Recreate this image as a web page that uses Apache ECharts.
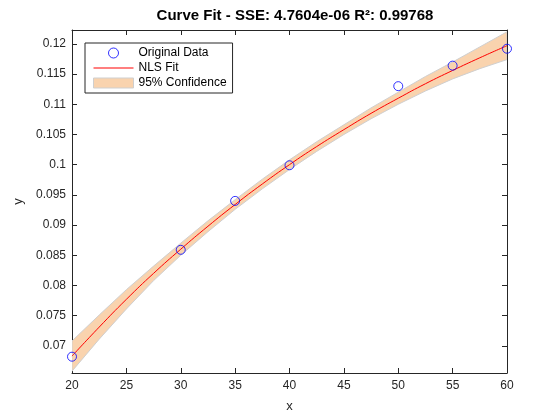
<!DOCTYPE html>
<html>
<head>
<meta charset="utf-8">
<script src="https://cdn.jsdelivr.net/npm/echarts@6/dist/echarts.min.js"></script>
<style>
  html, body { margin: 0; padding: 0; background: #fff; }
  #main { width: 560px; height: 420px; }
</style>
</head>
<body>
<div id="main"></div>
<script>
// measured points
var xData = [20, 30, 35, 40, 50, 55, 60];
var yData = [0.0682, 0.0859, 0.0940, 0.0999, 0.1130, 0.1164, 0.1192];

// fitted curve and confidence band
var fitX = [20, 22.5, 25, 27.5, 30, 32.5, 35, 37.5, 40, 42.5, 45, 47.5, 50, 52.5, 55, 57.5, 60];
var fitY = [0.0683, 0.0731, 0.0777, 0.0820, 0.0860, 0.0898, 0.0934, 0.0968, 0.1000, 0.1030, 0.1058, 0.1085, 0.1110, 0.1134, 0.1156, 0.1177, 0.1197];
var ciLower = [0.0658, 0.0711, 0.0761, 0.0808, 0.0850, 0.0889, 0.0926, 0.0960, 0.0992, 0.1022, 0.1050, 0.1076, 0.1100, 0.1122, 0.1142, 0.1159, 0.1174];
var ciUpper = [0.0708, 0.0751, 0.0793, 0.0832, 0.0870, 0.0907, 0.0942, 0.0976, 0.1008, 0.1038, 0.1066, 0.1094, 0.1120, 0.1146, 0.1170, 0.1195, 0.1220];

var yTicks = [0.07, 0.075, 0.08, 0.085, 0.09, 0.095, 0.1, 0.105, 0.11, 0.115, 0.12];

var axisColor = '#262626';
var font = 'Liberation Sans, Arial, sans-serif';
var bandColor = '#f9d3ae';
var bandEdge = '#cfcfcf';

var myChart = echarts.init(document.getElementById('main'), null, { renderer: 'canvas' });

var pts = xData.map(function (x, i) { return [x, yData[i]]; });
var fit = fitX.map(function (x, i) { return [x, fitY[i]]; });

// band polygon: upper edge left->right, then lower edge right->left
function renderBand(params, api) {
    var upper = fitX.map(function (x, i) { return api.coord([x, ciUpper[i]]); });
    var lower = fitX.map(function (x, i) { return api.coord([x, ciLower[i]]); }).reverse();
    var cs = params.coordSys;
    return {
        type: 'group',
        clipPath: { type: 'rect', shape: { x: cs.x, y: cs.y, width: cs.width, height: cs.height } },
        children: [{
            type: 'polygon',
            shape: { points: upper.concat(lower) },
            style: { fill: bandColor, stroke: bandEdge, lineWidth: 1 }
        }]
    };
}

var xCommon = {
    type: 'value', min: 20, max: 60, interval: 5,
    axisLine: { show: true, onZero: false, lineStyle: { color: axisColor, width: 1 } },
    axisTick: { show: true, inside: true, length: 5, lineStyle: { color: axisColor } },
    splitLine: { show: false }
};
var yCommon = {
    type: 'value', min: 0.0655, max: 0.1223,
    axisLine: { show: true, onZero: false, lineStyle: { color: axisColor, width: 1 } },
    axisTick: { show: true, inside: true, length: 5, customValues: yTicks, lineStyle: { color: axisColor } },
    splitLine: { show: false }
};

var option = {
    animation: false,
    backgroundColor: '#fff',
    textStyle: { fontFamily: font },
    title: {
        text: 'Curve Fit - SSE: 4.7604e-06 R²: 0.99768',
        left: 290, top: 3, textAlign: 'center',
        textStyle: { fontSize: 15, fontWeight: 'bold', color: '#000', fontFamily: font }
    },
    grid: { left: 72, right: 53, top: 30, bottom: 47 },
    legend: {
        orient: 'vertical',
        left: 85, top: 43,
        backgroundColor: '#fff',
        borderColor: axisColor, borderWidth: 1,
        padding: [4, 6, 4, 8],
        itemWidth: 40, itemHeight: 10, itemGap: 3,
        textStyle: { fontSize: 12, color: '#000', fontFamily: font },
        data: [
            { name: 'Original Data', icon: 'circle', itemStyle: { color: 'rgba(0,0,0,0)', borderColor: '#0000ff', borderWidth: 1 } },
            { name: 'NLS Fit', icon: 'path://M0,0H40V1H0Z', itemStyle: { color: '#ff0000' } },
            { name: '95% Confidence', icon: 'rect', itemStyle: { color: bandColor, borderColor: bandEdge, borderWidth: 1 } }
        ]
    },
    xAxis: [
        Object.assign({}, xCommon, {
            position: 'bottom',
            name: 'x', nameLocation: 'middle', nameGap: 27,
            nameTextStyle: { fontSize: 13, color: axisColor, fontFamily: font },
            axisLabel: { fontSize: 12, color: axisColor, margin: 7, fontFamily: font }
        }),
        Object.assign({}, xCommon, { position: 'top', axisLabel: { show: false } })
    ],
    yAxis: [
        Object.assign({}, yCommon, {
            position: 'left',
            name: 'y', nameLocation: 'middle', nameGap: 46,
            nameTextStyle: { fontSize: 13, color: axisColor, fontFamily: font },
            axisLabel: {
                fontSize: 12, color: axisColor, margin: 6, fontFamily: font,
                customValues: yTicks,
                formatter: function (v) { return String(+v.toFixed(3)); }
            }
        }),
        Object.assign({}, yCommon, { position: 'right', axisLabel: { show: false } })
    ],
    series: [
        {
            name: '95% Confidence', type: 'custom',
            data: [[fitX[0], ciLower[0]]],
            renderItem: renderBand,
            itemStyle: { color: bandColor },
            silent: true, z: 1
        },
        {
            name: 'NLS Fit', type: 'line', data: fit,
            showSymbol: false, symbol: 'none', smooth: true,
            lineStyle: { color: '#ff0000', width: 1 },
            itemStyle: { color: '#ff0000' },
            z: 2
        },
        {
            name: 'Original Data', type: 'scatter', data: pts,
            symbol: 'circle', symbolSize: 9,
            itemStyle: { color: 'rgba(0,0,0,0)', borderColor: '#0000ff', borderWidth: 1 },
            clip: false,
            z: 3
        }
    ]
};

myChart.setOption(option);
</script>
</body>
</html>
